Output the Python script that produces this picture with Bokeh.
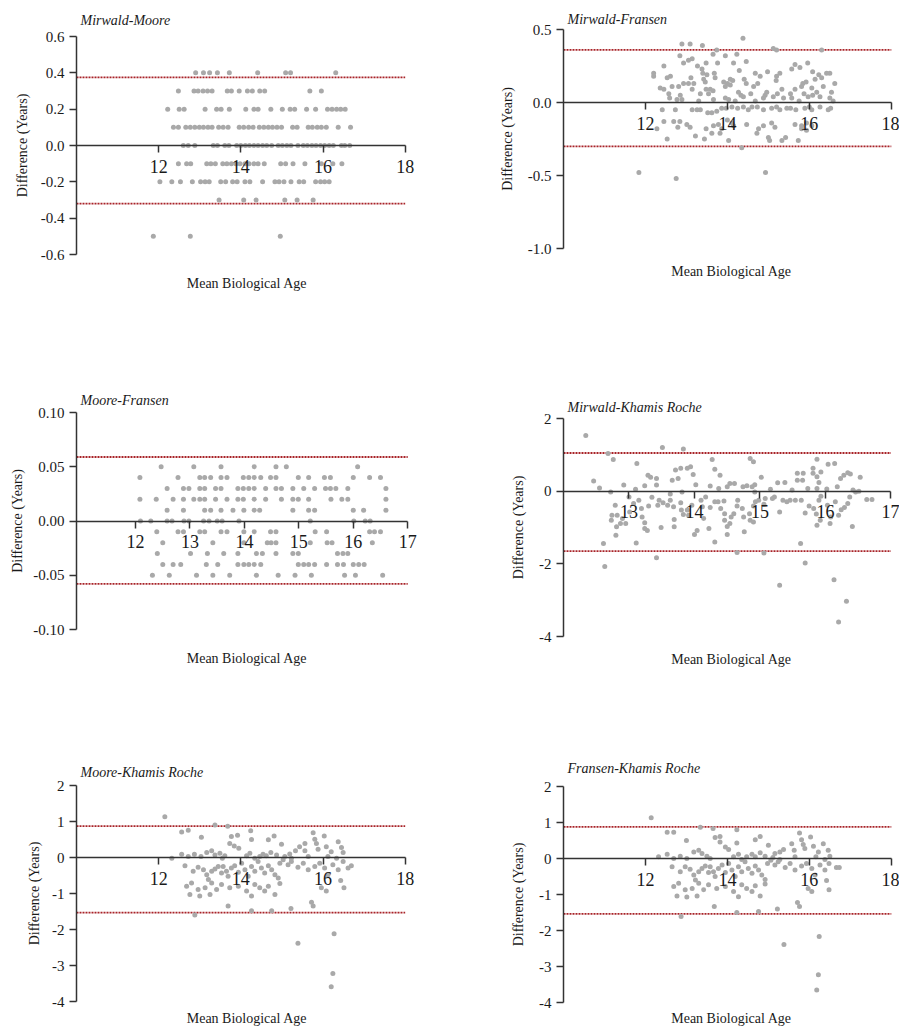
from bokeh.plotting import figure
from bokeh.layouts import column, row
from bokeh.models import FixedTicker, LinearAxis, PrintfTickFormatter
from bokeh.embed import file_html
from bokeh.resources import INLINE

FONT = "'Liberation Serif', 'Times New Roman', Times, serif"
DOT = "#a9a9a9"
AXC = "#333333"
TXT = "#1a1a1a"
RED = "#a82328"

# ---------------- Panel 1: Mirwald-Moore (discrete 0.1 steps) ----------------
mm_levels = [0.4, 0.3, 0.2, 0.1, 0.0, -0.1, -0.2, -0.3, -0.5]
mm_rows = [
    [12.90, 13.09, 13.24, 13.43, 13.72, 14.41, 15.09, 15.21, 16.31],
    [12.48, 12.86, 12.96, 13.08, 13.19, 13.30, 13.67, 13.77, 13.96, 14.16, 14.28, 14.46, 14.58, 15.68, 15.96],
    [12.22, 12.50, 12.62, 13.13, 13.41, 13.52, 13.72, 14.12, 14.32, 14.42, 14.73, 15.01, 15.20, 15.31, 15.60,
     15.82, 16.11, 16.22, 16.33, 16.43, 16.54],
    [12.36, 12.48, 12.66, 12.77, 12.88, 12.99, 13.09, 13.20, 13.30, 13.46, 13.57, 13.69, 13.96, 14.07, 14.19,
     14.30, 14.45, 14.56, 14.67, 14.77, 14.88, 14.99, 15.26, 15.37, 15.64, 15.74, 15.86, 15.96, 16.08, 16.37, 16.67],
    [12.60, 12.72, 12.88, 13.33, 13.43, 13.61, 13.71, 13.90, 14.00, 14.11, 14.21, 14.32, 14.42, 14.53, 14.63,
     14.75, 14.91, 15.01, 15.12, 15.22, 15.39, 15.52, 15.62, 15.73, 15.83, 15.94, 16.04, 16.15, 16.25, 16.45,
     16.53, 16.65],
    [12.48, 12.68, 12.78, 13.17, 13.27, 13.38, 13.56, 13.66, 13.77, 13.88, 13.98, 14.10, 14.20, 14.32, 14.42,
     14.57, 14.97, 15.09, 15.27, 15.56, 15.96, 16.24, 16.46],
    [12.03, 12.32, 12.53, 12.82, 13.02, 13.13, 13.23, 13.51, 13.63, 13.80, 13.91, 14.10, 14.22, 14.53, 14.83,
     14.93, 15.05, 15.22, 15.42, 15.53, 15.82, 15.94, 16.04, 16.15],
    [13.47, 14.07, 14.37, 15.07, 15.37, 15.76],
    [11.87, 12.77, 14.96],
]
mm_loa = [0.375, -0.32]

# ---------------- Panel 2: Mirwald-Fransen ----------------
mfr_x = [14.38, 12.89, 13.09, 13.39, 13.74, 15.12, 15.20, 16.30, 12.84, 13.65, 13.95, 14.23, 13.14, 13.05, 12.93,
         13.27, 13.48, 13.76, 14.15, 14.46, 12.45, 15.65, 15.96, 15.57, 13.38, 13.40, 13.50, 13.68, 14.29, 14.68,
         14.98, 15.28, 15.20, 15.77, 16.08, 12.20, 12.20, 12.61, 12.53, 13.11, 13.42, 13.70, 14.07, 14.41, 14.80,
         16.23, 16.30, 16.42, 16.50, 12.93, 13.05, 13.18, 13.46, 13.91, 14.00, 14.13, 14.46, 14.74, 15.19, 15.84,
         15.92, 16.14, 16.62, 12.36, 12.45, 12.65, 12.81, 13.14, 13.48, 13.58, 13.95, 14.07, 14.64, 14.96, 15.33,
         15.65, 15.81, 16.06, 16.34, 12.57, 12.85, 13.34, 13.54, 13.65, 14.27, 14.33, 14.57, 14.92, 15.12, 15.22,
         15.54, 15.87, 16.08, 16.18, 16.54, 16.26, 12.59, 12.77, 12.89, 13.30, 13.66, 13.95, 14.03, 14.19, 14.39,
         14.68, 14.88, 15.37, 15.57, 15.75, 15.97, 16.50, 16.58,
         12.41, 12.73, 13.14, 13.26, 13.34, 13.52, 13.62, 13.74, 13.86, 13.97, 14.11, 14.25, 14.39, 14.51, 14.60,
         14.73, 14.88, 15.08, 15.20, 15.28, 15.45, 15.54, 15.67, 15.89, 16.00, 16.06, 16.26, 16.46, 16.52,
         12.45, 12.69, 12.84, 13.01, 13.48, 13.66, 13.78, 13.86, 14.00, 14.11, 14.15, 14.47, 14.76, 14.88, 15.08,
         15.16, 15.65, 15.81, 15.93, 16.06, 12.28, 12.53, 12.79, 13.09, 13.22, 13.44, 13.62, 13.82, 14.03, 14.35,
         14.72, 15.00, 15.03, 15.33, 15.42, 15.73, 15.93, 15.81, 11.84, 12.75, 14.93]
mfr_y = [0.44, 0.40, 0.40, 0.39, 0.36, 0.37, 0.36, 0.36, 0.32, 0.33, 0.32, 0.33, 0.30, 0.29, 0.27,
         0.25, 0.27, 0.27, 0.27, 0.28, 0.25, 0.26, 0.27, 0.23, 0.23, 0.20, 0.19, 0.20, 0.22, 0.20,
         0.21, 0.20, 0.18, 0.24, 0.21, 0.20, 0.18, 0.18, 0.17, 0.17, 0.16, 0.17, 0.16, 0.16, 0.18,
         0.19, 0.17, 0.20, 0.20, 0.13, 0.13, 0.13, 0.14, 0.14, 0.13, 0.15, 0.13, 0.13, 0.15, 0.13,
         0.14, 0.16, 0.13, 0.10, 0.09, 0.11, 0.11, 0.09, 0.09, 0.09, 0.11, 0.12, 0.11, 0.07, 0.09,
         0.09, 0.11, 0.10, 0.11, 0.06, 0.05, 0.06, 0.06, 0.08, 0.07, 0.05, 0.06, 0.05, 0.04, 0.06,
         0.06, 0.06, 0.05, 0.07, 0.07, 0.04, 0.03, 0.02, 0.02, 0.01, 0.02, 0.03, 0.02, 0.01, 0.04,
         0.01, 0.03, 0.03, 0.03, 0.01, 0.04, 0.03, 0.01,
         -0.05, -0.05, -0.05, -0.05, -0.05, -0.07, -0.07, -0.06, -0.04, -0.04, -0.03, -0.04, -0.03, -0.05, -0.03,
         -0.03, -0.05, -0.04, -0.03, -0.05, -0.04, -0.04, -0.05, -0.04, -0.03, -0.05, -0.03, -0.05, -0.04,
         -0.13, -0.13, -0.13, -0.15, -0.18, -0.16, -0.15, -0.18, -0.12, -0.14, -0.16, -0.15, -0.18, -0.16, -0.14,
         -0.17, -0.15, -0.16, -0.14, -0.16, -0.18, -0.25, -0.17, -0.17, -0.23, -0.25, -0.21, -0.21, -0.26, -0.31,
         -0.21, -0.24, -0.26, -0.26, -0.24, -0.26, -0.19, -0.18, -0.48, -0.52, -0.48]
mfr_loa = [0.36, -0.30]

# ---------------- Panel 3: Moore-Fransen (discrete 0.01 steps) ----------------
mf_levels = [0.05, 0.04, 0.03, 0.02, 0.01, 0.0, -0.01, -0.02, -0.03, -0.04, -0.05]
mf_rows = [
    [12.47, 13.07, 13.57, 14.18, 14.58, 14.77, 16.08],
    [12.08, 12.78, 13.18, 13.27, 13.38, 13.57, 13.68, 13.98, 14.08, 14.18, 14.30, 14.48, 14.58, 14.99, 15.18,
     15.47, 15.58, 16.00, 16.30, 16.50],
    [12.58, 12.88, 12.98, 13.18, 13.27, 13.47, 13.57, 13.88, 13.98, 14.08, 14.18, 14.39, 14.58, 14.68, 14.89,
     15.09, 15.29, 15.49, 15.58, 15.68, 15.90, 16.60],
    [12.08, 12.38, 12.69, 12.88, 13.07, 13.18, 13.27, 13.47, 13.68, 13.88, 13.98, 14.18, 14.39, 14.68, 14.89,
     14.99, 15.18, 15.59, 15.79, 15.90, 16.60],
    [12.58, 12.88, 13.27, 13.38, 13.57, 13.79, 13.99, 14.18, 14.28, 14.89, 15.18, 15.29, 16.00, 16.19, 16.60],
    [12.09, 12.28, 12.58, 12.67, 12.89, 12.98, 13.25, 13.35, 13.50, 13.59, 13.90, 15.21, 16.01, 16.22, 16.31],
    [12.39, 12.78, 12.88, 13.18, 13.27, 13.57, 13.68, 13.99, 14.18, 14.48, 14.58, 15.30, 15.51, 16.30, 16.39, 16.50],
    [12.50, 13.42, 13.99, 14.42, 14.49, 14.58, 15.21, 15.52, 15.61, 16.35],
    [12.40, 13.01, 13.32, 13.62, 13.88, 14.22, 14.33, 14.58, 14.89, 14.99, 15.71, 15.81, 15.90],
    [12.50, 12.69, 12.83, 13.30, 13.51, 13.88, 13.99, 14.08, 14.18, 14.30, 14.99, 15.09, 15.18, 15.29, 15.51,
     15.71, 15.82, 16.00, 16.10, 16.20],
    [12.31, 12.62, 13.12, 13.42, 13.73, 14.22, 14.62, 14.93, 15.23, 15.84, 16.04, 16.54],
]
mf_loa = [0.059, -0.058]

# ---------------- Panel 4: Mirwald-Khamis Roche ----------------
mkr_x = [12.34, 12.68, 12.76, 13.51, 13.83, 14.27, 14.85, 14.90, 13.12, 15.87, 16.04, 16.14, 12.46, 12.55, 12.72,
         12.92, 13.00, 13.10, 13.29, 13.33, 13.42, 13.42, 13.24, 13.71, 13.79, 13.66, 13.75, 13.63, 13.89, 13.94,
         13.98, 14.02, 13.81, 14.31, 14.39, 14.24, 14.37, 14.50, 14.54, 14.61, 14.74, 14.80, 14.88, 14.92, 15.02,
         15.16, 15.27, 15.38, 15.49, 15.57, 15.66, 15.57, 15.65, 15.73, 15.81, 15.81, 15.87, 15.90, 15.93, 15.87,
         16.02, 16.18, 16.23, 16.28, 16.34, 16.38, 16.42, 16.51, 16.53,
         12.79, 12.74, 12.73, 12.82, 12.81, 12.87, 12.90, 12.80, 12.95, 13.01, 13.07, 13.15, 13.19, 13.20, 13.24,
         13.24, 13.28, 13.30, 13.35, 13.44, 13.46, 13.52, 13.49, 13.59, 13.63, 13.68, 13.69, 13.69, 13.79, 13.80,
         13.83, 13.89, 13.91, 13.96, 14.00, 14.04, 14.10, 14.17, 14.12, 14.14, 14.22, 14.24, 14.31, 14.36, 14.40,
         14.45, 14.46, 14.46, 14.50, 14.54, 14.56, 14.50, 14.60, 14.66, 14.65, 14.73, 14.75, 14.76, 14.84, 14.85,
         14.90, 14.90, 14.93, 14.92, 14.98, 15.08, 15.06, 15.19, 15.22, 15.30, 15.35, 15.41, 15.46, 15.54, 15.63,
         15.69, 15.75, 15.82, 15.86, 15.87, 15.92, 15.90, 15.93, 16.03, 16.08, 16.07, 16.15, 16.20, 16.24, 16.29,
         16.34, 16.37, 16.41, 16.46, 16.63, 16.71,
         12.61, 13.11, 13.42, 12.63, 14.31, 14.65, 15.06, 15.62, 15.69, 15.30, 16.13, 16.32, 16.20]
mkr_y = [1.53, 1.04, 0.87, 1.20, 1.16, 0.87, 0.90, 0.81, 0.76, 0.88, 0.74, 0.76, 0.28, 0.09, -0.02,
         0.17, -0.16, 0.05, 0.44, 0.38, 0.35, 0.17, 0.15, 0.58, 0.63, 0.30, 0.35, -0.08, 0.63, 0.67,
         0.46, 0.18, -0.02, 0.60, 0.44, 0.14, 0.07, 0.12, 0.21, 0.21, 0.12, 0.15, 0.12, 0.18, 0.38,
         0.05, 0.23, 0.24, 0.03, 0.49, 0.49, 0.30, 0.30, 0.07, 0.63, 0.49, 0.40, 0.24, 0.53, 0.07,
         0.06, 0.12, 0.35, 0.44, 0.51, 0.47, 0.03, 0.00, 0.38,
         -0.39, -0.66, -0.80, -0.66, -0.98, -0.89, -0.75, -1.21, -0.89, -0.57, -0.34, -0.25, -0.48, -0.71, -0.87,
         -1.03, -1.08, -0.41, -0.17, -0.39, -0.25, -0.32, -1.00, -0.39, -0.25, -0.43, -0.78, -0.98, -0.32, -0.52,
         -0.64, -0.52, -0.66, -0.39, -1.19, -1.08, -0.25, -0.16, -0.43, -0.75, -1.03, -0.45, -0.29, -0.29, -0.48,
         -0.27, -0.62, -0.80, -0.97, -0.89, -0.71, -1.19, -0.62, -0.25, -0.41, -0.48, -0.71, -1.12, -0.62, -0.80,
         -0.85, -0.41, -0.29, -0.02, -0.25, -0.20, -0.36, -0.20, -0.16, -0.57, -0.25, -0.29, -0.25, -0.25, -0.25,
         -0.60, -0.41, -0.48, -0.63, -0.94, -0.80, -0.25, -0.14, -0.39, -0.71, -0.89, -0.29, -0.66, -0.51, -0.45,
         -0.34, -0.16, -0.97, -0.02, -0.23, -0.23,
         -1.44, -1.43, -1.83, -2.07, -1.40, -1.69, -1.70, -1.44, -1.98, -2.59, -2.44, -3.03, -3.60]
mkr_loa = [1.05, -1.65]

# ---------------- Panel 5: Moore-Khamis Roche ----------------
mokr_x = [12.15, 12.56, 12.72, 13.04, 13.37, 13.68, 13.77, 13.92, 13.73, 13.84, 13.95, 14.24, 14.26, 14.67, 14.81,
          14.99, 15.19, 15.33, 15.43, 15.56, 15.56, 15.76, 15.80, 15.84, 15.88, 16.03, 16.08, 16.20, 16.37, 16.45,
          16.49, 12.32, 12.56, 12.72, 12.87, 13.03, 13.17, 13.29, 13.37, 13.49, 13.55, 13.61, 14.14, 14.22, 14.34,
          14.46, 14.54, 14.62, 14.73, 14.87, 15.07, 15.23, 15.64, 16.12, 16.33,
          12.64, 12.84, 12.96, 13.09, 13.17, 13.21, 13.29, 13.37, 13.45, 13.53, 13.57, 13.65, 13.69, 13.77, 13.85,
          13.94, 14.02, 14.10, 14.18, 14.26, 14.34, 14.42, 14.50, 14.58, 14.67, 14.75, 14.83, 14.91, 14.95, 15.03,
          15.15, 15.23, 15.39, 15.52, 15.64, 15.80, 15.92, 16.04, 16.12, 16.24, 16.37, 16.49, 16.69, 16.61,
          12.68, 12.76, 12.80, 12.96, 13.00, 13.13, 13.25, 13.29, 13.41, 13.53, 13.69, 13.73, 13.94, 14.14, 14.26,
          14.34, 14.46, 14.58, 14.67, 14.83, 14.95, 15.96, 16.08, 16.43, 16.51, 15.72, 15.76, 15.22,
          12.88, 14.26, 14.75, 15.39, 16.27, 16.24, 16.20]
mokr_y = [1.13, 0.71, 0.76, 0.56, 0.90, 0.87, 0.58, 0.62, 0.39, 0.32, 0.26, 0.74, 0.50, 0.49, 0.60,
          0.37, 0.10, 0.19, 0.30, 0.39, 0.19, 0.69, 0.51, 0.39, 0.23, 0.60, 0.30, 0.16, 0.44, 0.28,
          0.14, -0.02, 0.09, 0.03, 0.09, 0.03, 0.14, 0.19, 0.07, 0.12, -0.02, 0.05, 0.05, 0.12, -0.02,
          0.03, 0.09, 0.05, 0.14, 0.07, 0.03, -0.02, 0.03, 0.03, -0.02,
          -0.23, -0.38, -0.27, -0.34, -0.48, -0.61, -0.38, -0.32, -0.25, -0.43, -0.25, -0.38, -0.52, -0.29, -0.23,
          -0.41, -0.16, -0.34, -0.52, -0.25, -0.38, -0.11, -0.29, -0.43, -0.23, -0.34, -0.48, -0.57, -0.16, -0.06,
          -0.20, -0.11, -0.27, -0.16, -0.34, -0.25, -0.16, -0.29, -0.48, -0.20, -0.34, -0.11, -0.23, -0.29,
          -0.80, -1.03, -0.71, -0.89, -1.07, -0.84, -1.03, -0.71, -0.89, -0.75, -1.35, -0.84, -0.80, -0.93, -1.07,
          -0.75, -0.84, -0.93, -0.80, -1.03, -0.72, -0.84, -0.93, -0.64, -0.84, -1.24, -1.35, -1.42,
          -1.60, -1.48, -1.48, -2.38, -2.12, -3.22, -3.59]
mokr_loa = [0.87, -1.53]

# ---------------- Panel 6: Fransen-Khamis Roche ----------------
fkr_x = [12.14, 12.53, 12.69, 13.00, 13.34, 13.65, 13.70, 13.82, 13.82, 13.95, 14.03, 14.23, 14.23, 14.68, 14.80,
         15.00, 15.16, 15.28, 15.37, 15.57, 15.63, 15.76, 15.81, 15.85, 15.89, 16.03, 16.10, 16.22, 16.34, 16.46,
         16.50, 12.32, 12.53, 12.69, 12.85, 13.01, 13.18, 13.30, 13.38, 13.50, 13.58, 14.15, 14.27, 14.35, 14.47,
         14.60, 14.68, 14.80, 14.92, 15.11, 15.28, 15.65, 16.16, 16.38, 16.66, 16.73,
         12.65, 12.85, 12.97, 13.09, 13.18, 13.22, 13.30, 13.38, 13.46, 13.54, 13.58, 13.66, 13.70, 13.78, 13.87,
         13.95, 14.03, 14.11, 14.19, 14.27, 14.35, 14.43, 14.51, 14.60, 14.68, 14.76, 14.84, 14.92, 14.98, 15.06,
         15.16, 15.24, 15.41, 15.53, 15.65, 15.81, 15.93, 16.06, 16.14, 16.26, 16.38, 16.48,
         12.69, 12.77, 12.81, 12.97, 13.01, 13.14, 13.26, 13.30, 13.42, 13.54, 13.68, 13.74, 13.95, 14.15, 14.27,
         14.35, 14.47, 14.60, 14.68, 14.80, 14.92, 15.97, 16.06, 16.42, 16.48, 15.71, 15.76, 15.22,
         12.87, 14.23, 14.76, 15.38, 16.24, 16.22, 16.18]
fkr_y = [1.13, 0.73, 0.73, 0.50, 0.87, 0.83, 0.58, 0.61, 0.46, 0.32, 0.25, 0.80, 0.43, 0.52, 0.61,
         0.37, 0.14, 0.18, 0.25, 0.41, 0.23, 0.71, 0.52, 0.39, 0.28, 0.60, 0.34, 0.18, 0.41, 0.23,
         0.06, 0.05, 0.12, 0.00, 0.06, 0.00, 0.18, 0.23, 0.14, 0.06, 0.00, 0.05, 0.12, -0.03, 0.05,
         0.12, 0.05, 0.16, 0.06, 0.03, -0.03, 0.05, 0.05, -0.03, -0.25, -0.25,
         -0.23, -0.37, -0.23, -0.30, -0.46, -0.60, -0.37, -0.28, -0.21, -0.39, -0.23, -0.37, -0.50, -0.28, -0.18,
         -0.39, -0.14, -0.32, -0.50, -0.23, -0.37, -0.09, -0.28, -0.41, -0.21, -0.32, -0.46, -0.58, -0.14, -0.05,
         -0.18, -0.09, -0.25, -0.14, -0.32, -0.21, -0.14, -0.28, -0.46, -0.18, -0.32, -0.14,
         -0.78, -1.04, -0.69, -0.87, -1.07, -0.83, -1.04, -0.69, -0.87, -0.73, -1.33, -0.83, -0.78, -0.92, -1.06,
         -0.73, -0.83, -0.92, -0.76, -1.04, -0.71, -0.83, -0.92, -0.61, -0.87, -1.22, -1.33, -1.40,
         -1.61, -1.50, -1.47, -2.39, -2.17, -3.23, -3.65]
fkr_loa = [0.88, -1.54]


def rows_to_xy(levels, rows):
    xs, ys = [], []
    for lv, r in zip(levels, rows):
        xs.extend(r)
        ys.extend([lv] * len(r))
    return xs, ys


def panel(title, xs, ys, xr, yr, xticks, yticks, yfmt, loa, W, H, bl, br, bt, bb,
          t_stand, xl_stand, yl_stand):
    p = figure(width=W, height=H, x_range=xr, y_range=yr, output_backend="svg", toolbar_location=None,
               min_border_left=bl, min_border_right=br, min_border_top=bt, min_border_bottom=bb)
    p.outline_line_color = None
    p.xgrid.visible = False
    p.ygrid.visible = False
    p.background_fill_color = "white"
    p.border_fill_color = "white"

    p.title.text = title
    p.title.text_font = FONT
    p.title.text_font_style = "italic"
    p.title.text_font_size = "14px"
    p.title.text_color = TXT
    p.title.align = "left"
    p.title.offset = 4
    p.title.standoff = t_stand

    x_lo, x_hi = xr[0], xticks[-1]
    p.segment(x0=[x_lo] * len(loa), y0=loa, x1=[x_hi] * len(loa), y1=loa,
              line_color=RED, line_width=1.8, line_dash="2 1")

    p.scatter(x=xs, y=ys, size=5, fill_color=DOT, line_color=None)

    xa = p.xaxis[0]
    xa.fixed_location = 0
    xa.bounds = (x_lo, x_hi)
    xa.ticker = FixedTicker(ticks=xticks)
    xa.axis_line_color = AXC
    xa.axis_line_width = 1.5
    xa.major_tick_line_color = AXC
    xa.major_tick_line_width = 1.5
    xa.major_tick_out = 7
    xa.major_tick_in = 0
    xa.minor_tick_line_color = None
    xa.major_label_text_font = FONT
    xa.major_label_text_font_size = "18px"
    xa.major_label_text_color = TXT
    xa.major_label_standoff = 7

    ya = p.yaxis[0]
    ya.ticker = FixedTicker(ticks=yticks)
    ya.formatter = PrintfTickFormatter(format=yfmt)
    ya.axis_line_color = AXC
    ya.axis_line_width = 1.5
    ya.major_tick_line_color = AXC
    ya.major_tick_line_width = 1.5
    ya.major_tick_out = 7
    ya.major_tick_in = 0
    ya.minor_tick_line_color = None
    ya.major_label_text_font = FONT
    ya.major_label_text_font_size = "15px"
    ya.major_label_text_color = TXT
    ya.major_label_standoff = 5
    ya.axis_label = "Difference (Years)"
    ya.axis_label_text_font = FONT
    ya.axis_label_text_font_size = "14px"
    ya.axis_label_text_font_style = "normal"
    ya.axis_label_text_color = TXT
    ya.axis_label_standoff = yl_stand

    lab = LinearAxis(ticker=FixedTicker(ticks=[]), axis_line_color=None, major_tick_line_color=None,
                     minor_tick_line_color=None, major_tick_out=0, major_tick_in=0,
                     axis_label="Mean Biological Age")
    lab.axis_label_text_font = FONT
    lab.axis_label_text_font_size = "14px"
    lab.axis_label_text_font_style = "normal"
    lab.axis_label_text_color = TXT
    lab.axis_label_standoff = xl_stand
    p.add_layout(lab, "below")
    return p


mm_x, mm_y = rows_to_xy(mm_levels, mm_rows)
mf_x, mf_y = rows_to_xy(mf_levels, mf_rows)

# left column: width 449, frames 76..417 ; right column: width 450, frames 563..899
p1 = panel("Mirwald-Moore", mm_x, mm_y, (10, 18.3), (-0.6, 0.6), [12, 14, 16, 18],
           [-0.6, -0.4, -0.2, 0.0, 0.2, 0.4, 0.6], "%.1f", mm_loa,
           449, 340, 76, 32, 36, 86, 18, 21, 8)
p3 = panel("Moore-Fransen", mf_x, mf_y, (10.915, 17.18), (-0.10, 0.10), [12, 13, 14, 15, 16, 17],
           [-0.10, -0.05, 0.0, 0.05, 0.10], "%.2f", mf_loa,
           449, 350, 76, 32, 72, 61, 9, 21, 5)
p5 = panel("Moore-Khamis Roche", mokr_x, mokr_y, (10, 18.3), (-4, 2), [12, 14, 16, 18],
           [-4, -3, -2, -1, 0, 1, 2], "%d", mokr_loa,
           449, 338, 76, 32, 95, 25, 11, 9, 7)

p2 = panel("Mirwald-Fransen", mfr_x, mfr_y, (10, 18.2), (-1.0, 0.5), [12, 14, 16, 18],
           [-1.0, -0.5, 0.0, 0.5], "%.1f", mfr_loa,
           450, 340, 114, 0, 29, 92, 5, 15, 10)
p4 = panel("Mirwald-Khamis Roche", mkr_x, mkr_y, (12, 17.13), (-4, 2), [13, 14, 15, 16, 17],
           [-4, -2, 0, 2], "%d", mkr_loa,
           450, 350, 114, 0, 78, 54, 7, 15, 10)
p6 = panel("Fransen-Khamis Roche", fkr_x, fkr_y, (10, 18.2), (-4, 2), [12, 14, 16, 18],
           [-4, -3, -2, -1, 0, 1, 2], "%d", fkr_loa,
           450, 338, 114, 0, 96, 24, 21, 8, 10)

layout = row(column(p1, p3, p5), column(p2, p4, p6))
open("out.html", "w").write(file_html(layout, INLINE))
